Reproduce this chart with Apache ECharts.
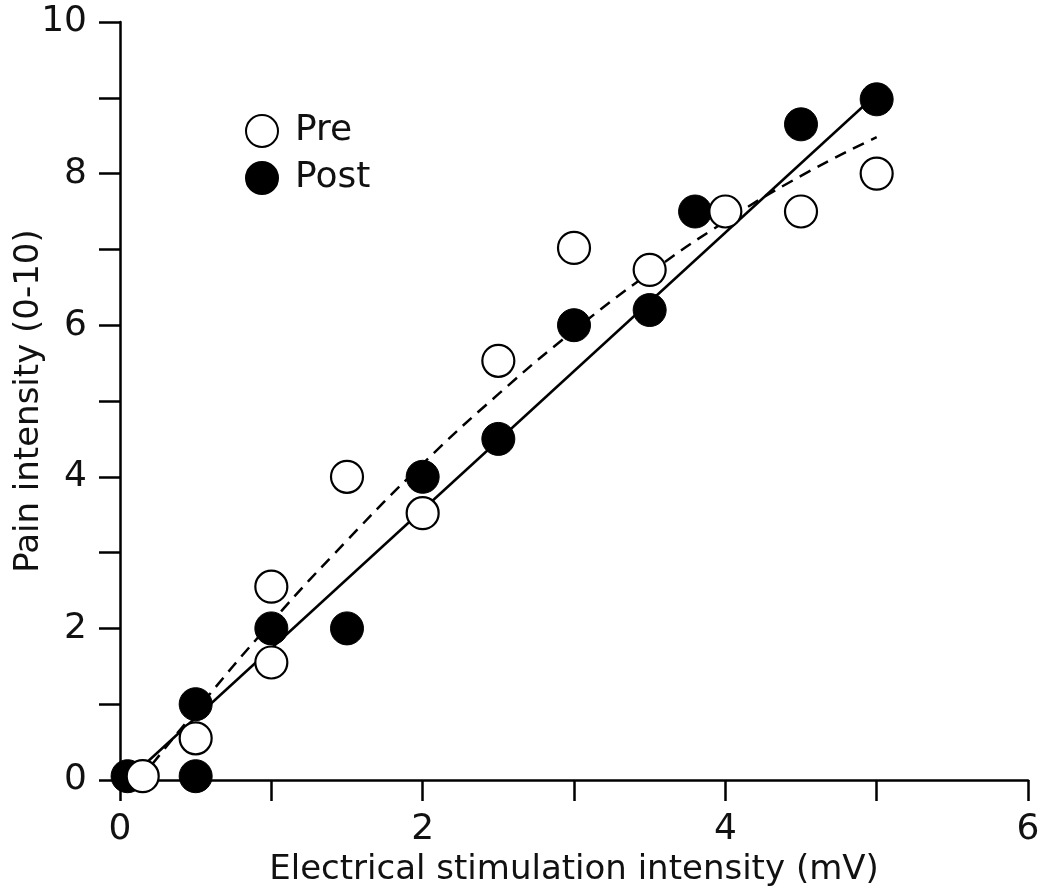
<!DOCTYPE html>
<html><head><meta charset="utf-8">
<script src="https://cdn.jsdelivr.net/npm/echarts@6/dist/echarts.min.js"></script>
<style>html,body{margin:0;padding:0;background:#fff}#c{width:1055px;height:896px}</style>
</head><body><div id="c"></div>
<script>
const preData = [[0.15,0.05],[0.5,0.55],[1,2.55],[1,1.55],[1.5,4.0],[2,3.52],[2.5,5.53],[3,7.02],[3.5,6.73],[4,7.5],[4.5,7.5],[5,8.0]];
const postData = [[0.05,0.05],[0.5,1.0],[0.5,0.05],[1,2.0],[1.5,2.0],[2,4.0],[2.5,4.5],[3,6.0],[3.5,6.2],[3.8,7.5],[4.5,8.65],[5,8.98]];
const postFit = [[0.05,0],[5,9.05]];
const preFit = [[0.13,0],[0.5,0.91],[1,2.08],[1.5,3.16],[2,4.17],[2.5,5.09],[3,5.93],[3.5,6.69],[4,7.37],[4.5,7.97],[5,8.48]];
const xTickLabels = ['0','2','4','6'];
const yTickLabels = ['0','2','4','6','8','10'];
const FONT = 'DejaVu Sans';
const FS = 36;
const FT = 34;
const chart = echarts.init(document.getElementById('c'));
chart.setOption({
  animation:false,
  backgroundColor:'#fff',
  grid:{left:120,right:27,top:22,bottom:116,containLabel:false,outerBoundsMode:'none'},
  legend:{
    orient:'vertical', left:245, top:113, padding:0, itemWidth:32, itemHeight:32, itemGap:11,
    data:['Pre','Post'], icon:'circle',
    textStyle:{fontFamily:FONT,fontSize:FS,color:'#111',padding:[0,0,0,12]}
  },
  xAxis:{
    type:'value', min:0, max:6, interval:1,
    name:'Electrical stimulation intensity (mV)', nameLocation:'middle', nameGap:66,
    nameTextStyle:{fontFamily:FONT,fontSize:FT,color:'#111'},
    axisLine:{lineStyle:{color:'#000',width:2.5}},
    axisTick:{inside:false,length:21,lineStyle:{color:'#000',width:2.5}},
    axisLabel:{margin:32,fontFamily:FONT,fontSize:FS,color:'#111',
      formatter:v=> (v%2===0 ? xTickLabels[v/2] : '')},
    splitLine:{show:false}
  },
  yAxis:{
    type:'value', min:0, max:10, interval:1,
    name:'Pain intensity (0-10)', nameLocation:'middle', nameGap:74, nameMoveOverlap:false,
    nameTextStyle:{fontFamily:FONT,fontSize:FT,color:'#111'},
    axisLine:{lineStyle:{color:'#000',width:2.5}},
    axisTick:{inside:false,length:21,lineStyle:{color:'#000',width:2.5}},
    axisLabel:{margin:33,fontFamily:FONT,fontSize:FS,color:'#111',
      formatter:v=> (v%2===0 ? yTickLabels[v/2] : '')},
    splitLine:{show:false}
  },
  series:[
    {name:'postFit',type:'line',data:postFit,symbol:'none',z:1,
      lineStyle:{color:'#000',width:2.5,type:'solid'},silent:true},
    {name:'preFit',type:'line',data:preFit,symbol:'none',smooth:true,z:1,
      lineStyle:{color:'#000',width:2.5,type:[12,8]},silent:true},
    {name:'Post',type:'scatter',data:postData,symbol:'circle',symbolSize:33,z:3,
      itemStyle:{color:'#000',borderColor:'#000',borderWidth:1,opacity:1}},
    {name:'Pre',type:'scatter',data:preData,symbol:'circle',symbolSize:32,z:4,
      itemStyle:{color:'#fff',borderColor:'#000',borderWidth:2.2,opacity:1}}
  ]
});
</script></body></html>
